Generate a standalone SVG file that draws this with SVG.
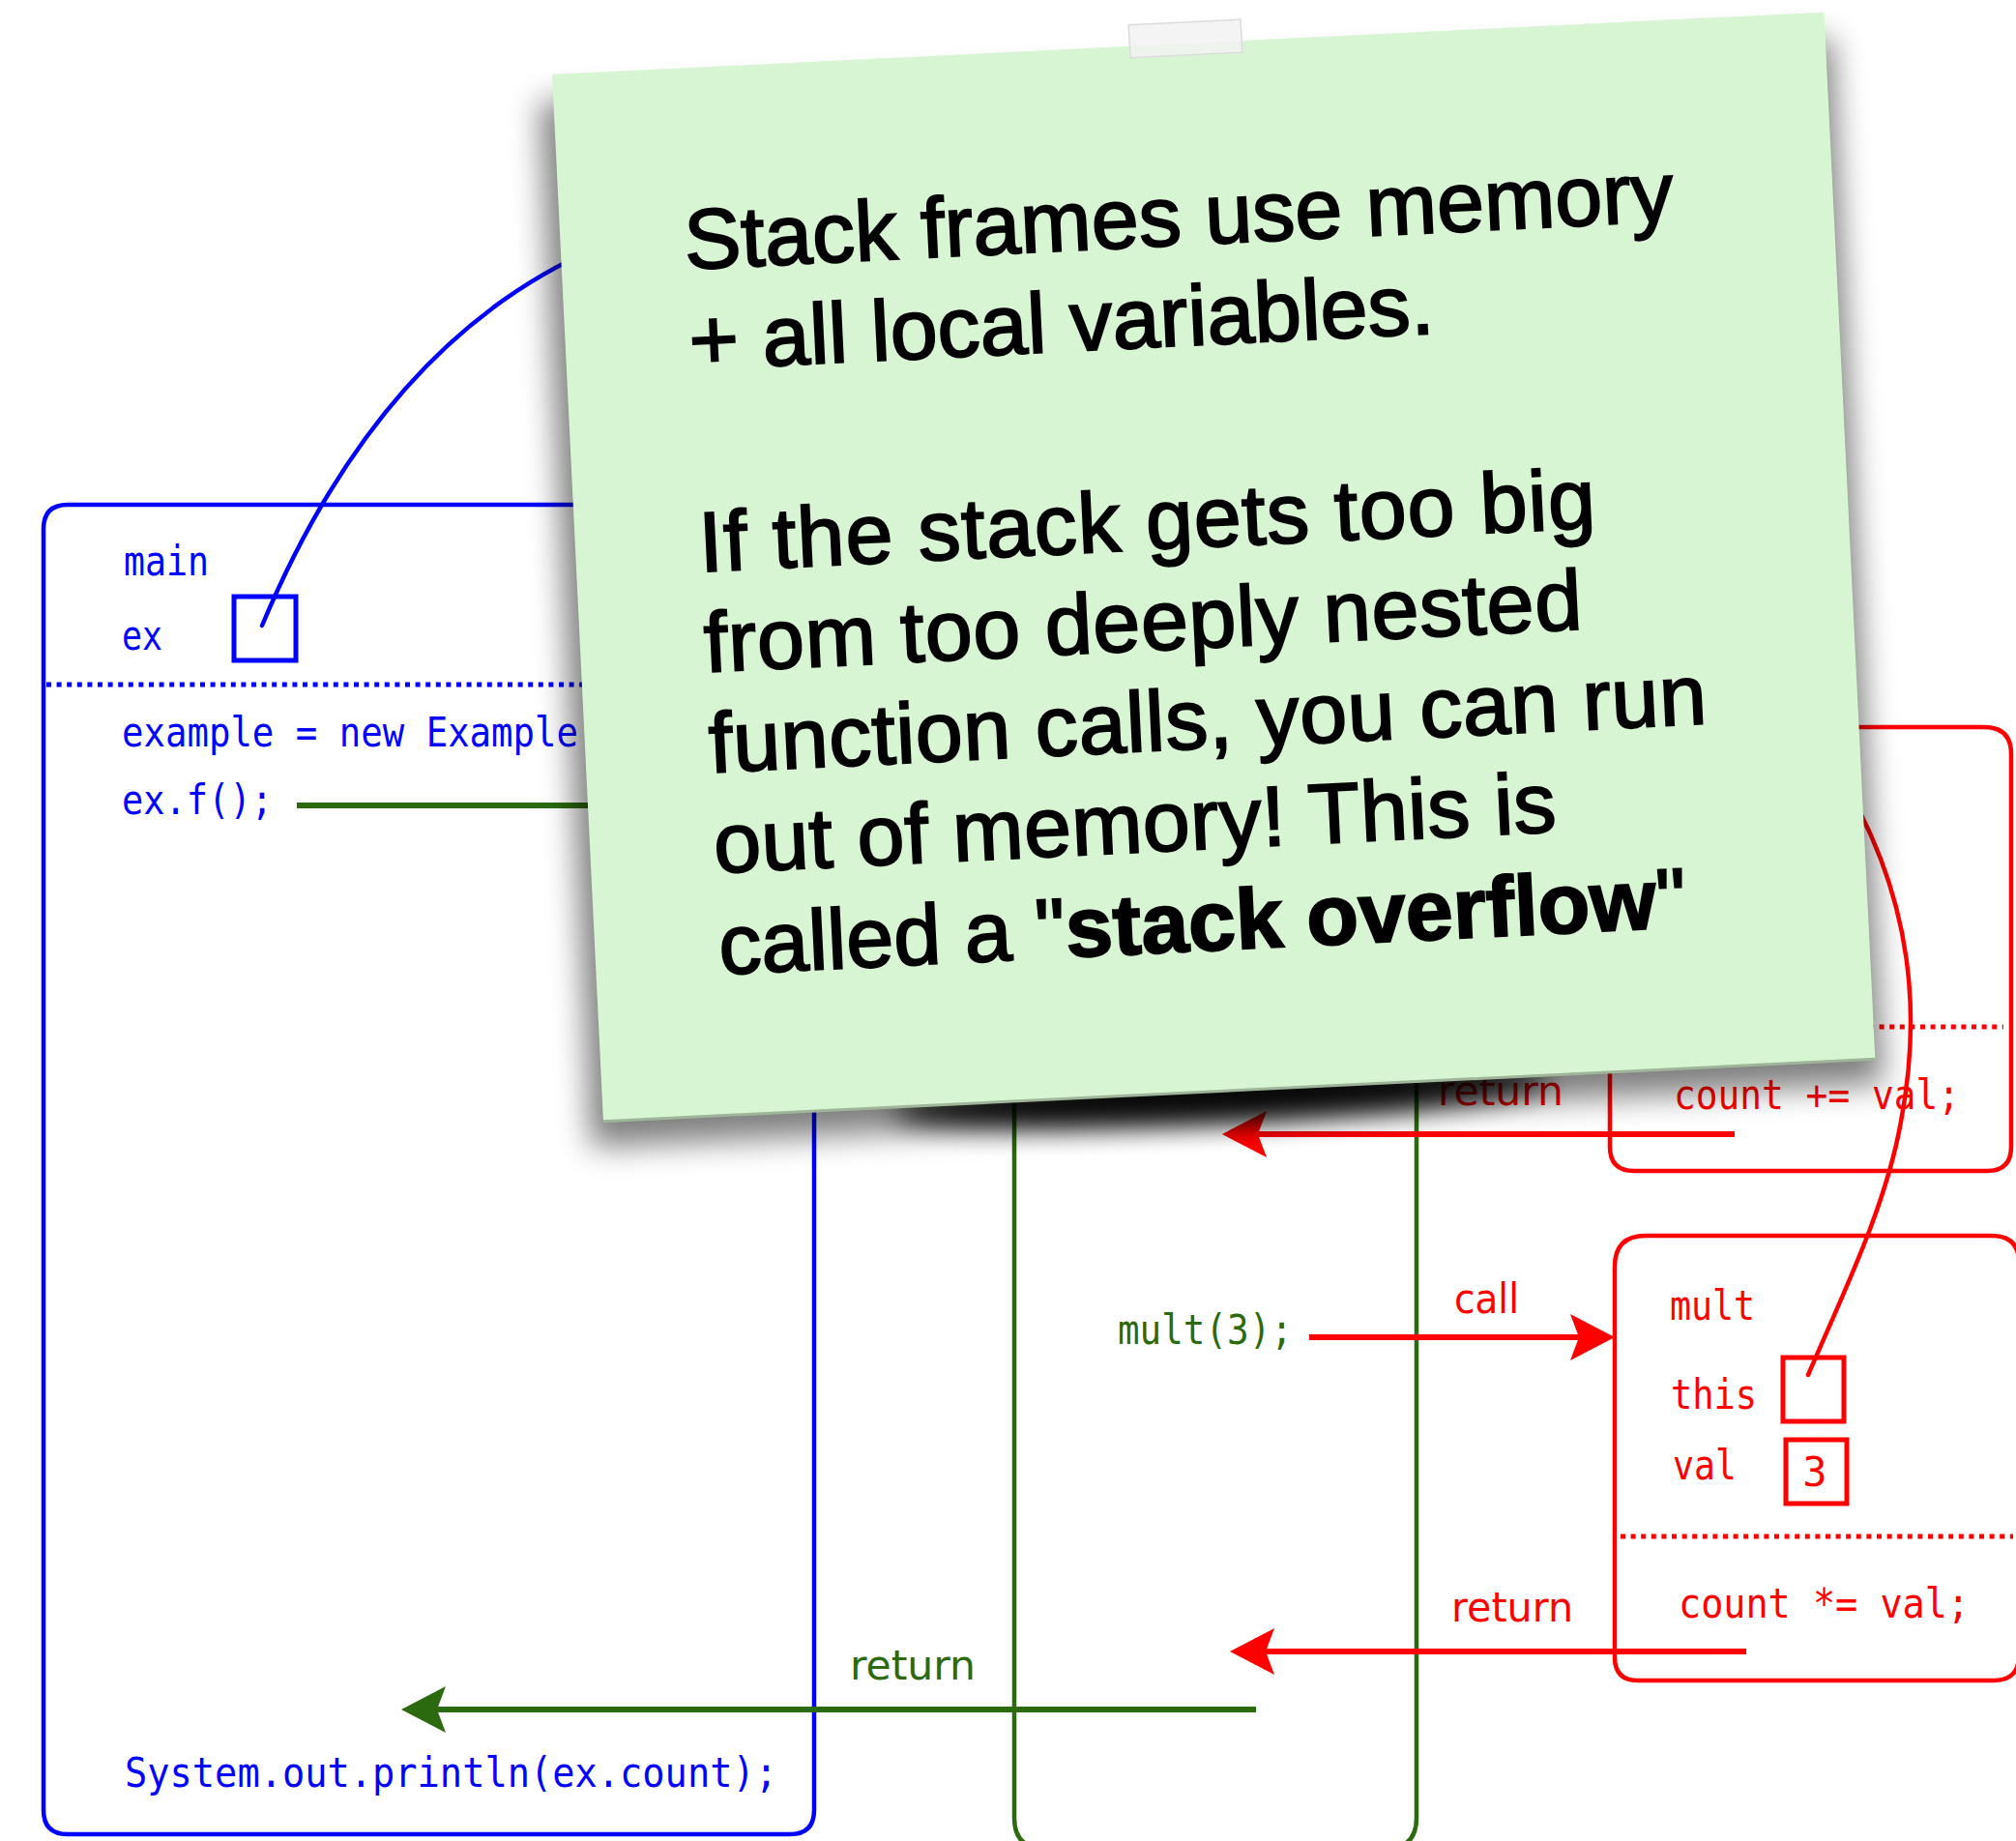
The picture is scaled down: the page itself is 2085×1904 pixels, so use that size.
<svg xmlns="http://www.w3.org/2000/svg" width="2085" height="1904" viewBox="0 0 2085 1904">
  <defs>
    <style>
      .mono { font-family: "DejaVu Sans Mono", "Liberation Mono", monospace; font-size: 42px; }
      .lbl { font-family: "DejaVu Sans", "Liberation Sans", sans-serif; font-size: 42px; }
      .blue { fill: #0000ff; }
      .green { fill: #2b6a0e; }
      .red { fill: #ff0000; }
      .frame { fill: none; stroke-width: 4.5; stroke-linejoin: round; }
      .dots { fill: none; stroke-width: 5; stroke-dasharray: 5 5.6; }
      .slot { fill: none; stroke-width: 5; }
      .flow { fill: none; stroke-width: 6; }
      .ptr { fill: none; stroke-width: 4.5; stroke-linecap: round; }
      .note-text { font-family: "Liberation Sans", Arial, sans-serif; font-size: 88px; fill: #000; stroke: #000; stroke-width: 2; }
    </style>
    <marker id="head-green" markerUnits="userSpaceOnUse" markerWidth="52" markerHeight="54" viewBox="0 -27 52 54" refX="9" refY="0" orient="auto">
      <path d="M46 0 L0 -24 L9 0 L0 24 Z" fill="#2b6a0e"/>
    </marker>
    <marker id="head-red" markerUnits="userSpaceOnUse" markerWidth="52" markerHeight="54" viewBox="0 -27 52 54" refX="9" refY="0" orient="auto">
      <path d="M46 0 L0 -24 L9 0 L0 24 Z" fill="#ff0000"/>
    </marker>
    <filter id="blur-wide" x="-20%" y="-20%" width="140%" height="140%">
      <feGaussianBlur stdDeviation="16"/>
    </filter>
    <filter id="blur-curl" x="-50%" y="-200%" width="200%" height="500%">
      <feGaussianBlur stdDeviation="14"/>
    </filter>
  </defs>

  <rect width="2085" height="1904" fill="#ffffff"/>

  <!-- main frame -->
  <g id="frame-main">
    <path class="frame" stroke="#0000ff" d="M45 547 Q45 522 70 522 L817 522 Q842 522 842 547 L842 1872 Q842 1897 817 1897 L70 1897 Q45 1897 45 1872 Z"/>
    <line class="dots" stroke="#0000ff" x1="48" y1="708" x2="640" y2="708"/>
    <text class="mono blue" x="128" y="595" textLength="88" lengthAdjust="spacingAndGlyphs">main</text>
    <text class="mono blue" x="126" y="672" textLength="42" lengthAdjust="spacingAndGlyphs">ex</text>
    <rect class="slot" stroke="#0000ff" x="242" y="617" width="64" height="66"/>
    <text class="mono blue" x="126" y="772" textLength="472" lengthAdjust="spacingAndGlyphs">example = new Example</text>
    <text class="mono blue" x="126" y="842" textLength="156" lengthAdjust="spacingAndGlyphs">ex.f();</text>
    <text class="mono blue" x="129" y="1848" textLength="675" lengthAdjust="spacingAndGlyphs">System.out.println(ex.count);</text>
  </g>

  <!-- f frame -->
  <g id="frame-f">
    <path class="frame" stroke="#2b6a0e" stroke-width="3.5" d="M1049 730 Q1049 700 1079 700 L1435 700 Q1465 700 1465 730 L1465 1880 Q1465 1912 1433 1912 L1081 1912 Q1049 1912 1049 1880 Z"/>
    <text class="mono green" x="1156" y="1390" textLength="181" lengthAdjust="spacingAndGlyphs">mult(3);</text>
  </g>

  <!-- add frame -->
  <g id="frame-add">
    <path class="frame" stroke="#ff0000" d="M1665 777 Q1665 752 1690 752 L2052 752 Q2080 752 2080 780 L2080 1186 Q2080 1211 2055 1211 L1690 1211 Q1665 1211 1665 1186 Z"/>
    <line class="dots" stroke="#ff0000" x1="1668" y1="1062" x2="2072" y2="1062"/>
    <text class="mono red" x="1731" y="1147" textLength="296" lengthAdjust="spacingAndGlyphs">count += val;</text>
  </g>

  <!-- mult frame -->
  <g id="frame-mult">
    <path class="frame" stroke="#ff0000" d="M1670 1310 Q1670 1278 1702 1278 L2060 1278 Q2088 1278 2088 1306 L2088 1712 Q2088 1738 2062 1738 L1694 1738 Q1670 1738 1670 1714 Z"/>
    <line class="dots" stroke="#ff0000" x1="1676" y1="1589" x2="2082" y2="1589"/>
    <text class="mono red" x="1727" y="1365" textLength="88" lengthAdjust="spacingAndGlyphs">mult</text>
    <text class="mono red" x="1728" y="1457" textLength="89" lengthAdjust="spacingAndGlyphs">this</text>
    <rect class="slot" stroke="#ff0000" x="1844" y="1404" width="63" height="66"/>
    <text class="mono red" x="1730" y="1530" textLength="66" lengthAdjust="spacingAndGlyphs">val</text>
    <rect class="slot" stroke="#ff0000" x="1847" y="1489" width="63" height="66"/>
    <text class="mono red" x="1877" y="1537" text-anchor="middle">3</text>
    <text class="mono red" x="1736" y="1673" textLength="301" lengthAdjust="spacingAndGlyphs">count *= val;</text>
  </g>

  <!-- calls, returns and references -->
  <g id="connectors">
    <path class="ptr" stroke="#0000ff" d="M271 647 C320 530 420 340 620 255"/>
    <line class="flow" stroke="#2b6a0e" x1="307" y1="833" x2="1000" y2="833"/>
    <path class="flow" stroke="#2b6a0e" d="M1299 1768 L452 1768" marker-end="url(#head-green)"/>
    <text class="lbl green" x="879" y="1737" textLength="130" lengthAdjust="spacingAndGlyphs">return</text>

    <path class="flow" stroke="#ff0000" d="M1354 1383 L1633 1383" marker-end="url(#head-red)"/>
    <text class="lbl red" x="1504" y="1358" textLength="67" lengthAdjust="spacingAndGlyphs">call</text>

    <path class="flow" stroke="#ff0000" d="M1794 1173 L1301 1173" marker-end="url(#head-red)"/>
    <text class="lbl red" x="1487" y="1143" textLength="130" lengthAdjust="spacingAndGlyphs">return</text>

    <path class="flow" stroke="#ff0000" d="M1806 1708 L1309 1708" marker-end="url(#head-red)"/>
    <text class="lbl red" x="1501" y="1677" textLength="126" lengthAdjust="spacingAndGlyphs">return</text>

    <path class="ptr" stroke="#ff0000" d="M1870 1422 C1905 1340 1950 1250 1966 1160 C1985 1060 1985 930 1895 790"/>
  </g>

  <!-- sticky note -->
  <g id="note" transform="translate(571 77) rotate(-2.8)">
    <rect x="-14" y="28" width="1338" height="1082" fill="#000" opacity="0.5" filter="url(#blur-wide)"/>
    <ellipse cx="640" cy="1088" rx="340" ry="28" fill="#000" opacity="0.95" filter="url(#blur-curl)"/>
    <rect x="0" y="0" width="1317" height="1084" fill="#d8f5d3"/>
    <line x1="0" y1="1084" x2="1317" y2="1084" stroke="#9fb59a" stroke-width="3"/>
    <rect x="598" y="-22" width="116" height="34" fill="#f2f2f2" fill-opacity="0.85" stroke="#dcdcdc" stroke-width="1.5"/>
    <text class="note-text" x="128" y="208" textLength="1024" lengthAdjust="spacing">Stack frames use memory</text>
    <text class="note-text" x="128" y="312" textLength="771" lengthAdjust="spacing">+ all local variables.</text>
    <text class="note-text" x="128" y="521" textLength="928" lengthAdjust="spacing">If the stack gets too big</text>
    <text class="note-text" x="128" y="625" textLength="909" lengthAdjust="spacing">from too deeply nested</text>
    <text class="note-text" x="128" y="729" textLength="1033" lengthAdjust="spacing">function calls, you can run</text>
    <text class="note-text" x="128" y="833" textLength="872" lengthAdjust="spacing">out of memory! This is</text>
    <text class="note-text" x="128" y="938">called a "<tspan font-weight="bold">stack overflow</tspan>"</text>
  </g>
</svg>
